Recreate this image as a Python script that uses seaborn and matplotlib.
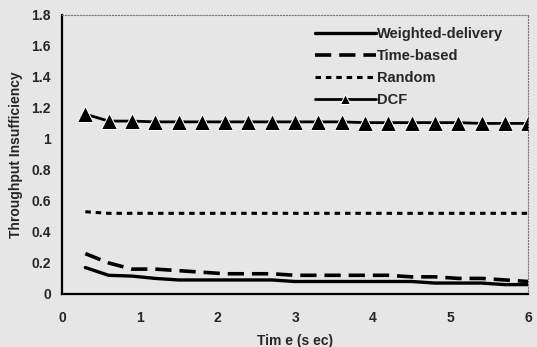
import matplotlib
matplotlib.use("Agg")
import matplotlib.pyplot as plt
import seaborn as sns
import pandas as pd

time = [0.3, 0.6, 0.9, 1.2, 1.5, 1.8, 2.1, 2.4, 2.7, 3.0,
        3.3, 3.6, 3.9, 4.2, 4.5, 4.8, 5.1, 5.4, 5.7, 6.0]
weighted = [0.17, 0.12, 0.115, 0.10, 0.09, 0.09, 0.09, 0.09, 0.09, 0.08,
            0.08, 0.08, 0.08, 0.08, 0.08, 0.07, 0.07, 0.07, 0.06, 0.06]
time_based = [0.26, 0.20, 0.16, 0.16, 0.15, 0.14, 0.13, 0.13, 0.13, 0.12,
              0.12, 0.12, 0.12, 0.12, 0.11, 0.11, 0.10, 0.10, 0.09, 0.08]
random_ = [0.53, 0.52, 0.52, 0.52, 0.52, 0.52, 0.52, 0.52, 0.52, 0.52,
           0.52, 0.52, 0.52, 0.52, 0.52, 0.52, 0.52, 0.52, 0.52, 0.52]
dcf = [1.16, 1.115, 1.115, 1.11, 1.11, 1.11, 1.11, 1.11, 1.11, 1.11,
       1.11, 1.11, 1.105, 1.105, 1.105, 1.105, 1.105, 1.10, 1.10, 1.10]
series_names = ["Weighted-delivery", "Time-based", "Random", "DCF"]
x_ticks = [0, 1, 2, 3, 4, 5, 6]
y_ticks = [0, 0.2, 0.4, 0.6, 0.8, 1, 1.2, 1.4, 1.6, 1.8]
y_labels = ["0", "0.2", "0.4", "0.6", "0.8", "1", "1.2", "1.4", "1.6", "1.8"]

sns.set_style("white")
plt.rcParams['font.family'] = ['Liberation Sans', 'DejaVu Sans']
plt.rcParams['font.weight'] = 'bold'

fig = plt.figure(figsize=(5.37, 3.47), dpi=100)
bg = "#e6e6e6"
fig.patch.set_facecolor(bg)
ax = fig.add_axes([0.1155, 0.153, 0.868, 0.804])
ax.set_facecolor(bg)

df = pd.DataFrame({"time": time, series_names[0]: weighted, series_names[1]: time_based,
                   series_names[2]: random_, series_names[3]: dcf})

styles = {
    series_names[0]: dict(linestyle="-", linewidth=2.4),
    series_names[1]: dict(linestyle=(0, (4.5, 2.2)), linewidth=2.6),
    series_names[2]: dict(linestyle=(0, (1.8, 1.6)), linewidth=2.2),
    series_names[3]: dict(linestyle="-", linewidth=2.0, marker="^", markersize=11),
}
for name in series_names:
    sns.lineplot(data=df, x="time", y=name, ax=ax, color="black", label=name, **styles[name])

ax.set_xlim(0, 6)
ax.set_ylim(0, 1.8)
ax.set_xticks(x_ticks)
ax.set_xticklabels([str(t) for t in x_ticks], fontsize=10, fontweight='bold')
ax.set_yticks(y_ticks)
ax.set_yticklabels(y_labels, fontsize=10, fontweight='bold')
ax.set_xlabel("Tim e (s ec)", fontsize=10, fontweight='bold', labelpad=7)
ax.set_ylabel("Throughput Insufficiency", fontsize=10, fontweight='bold', labelpad=6)
ax.tick_params(axis='both', direction='out', length=4, width=1.2, color='black', pad=8)
ax.tick_params(axis='y', pad=4)

for s in ["left", "bottom"]:
    ax.spines[s].set_color("black")
    ax.spines[s].set_linewidth(1.6)
for s in ["top", "right"]:
    ax.spines[s].set_color("#777777")
    ax.spines[s].set_linewidth(0.8)
    ax.spines[s].set_linestyle(":")

leg = ax.legend(loc="upper right", bbox_to_anchor=(0.975, 1.003), frameon=False,
                fontsize=10.5, handlelength=4.2, handletextpad=0.1, labelspacing=0.55,
                markerscale=0.6)
for t in leg.get_texts():
    t.set_fontweight('bold')

fig.savefig("out.png", dpi=100, facecolor=bg)
